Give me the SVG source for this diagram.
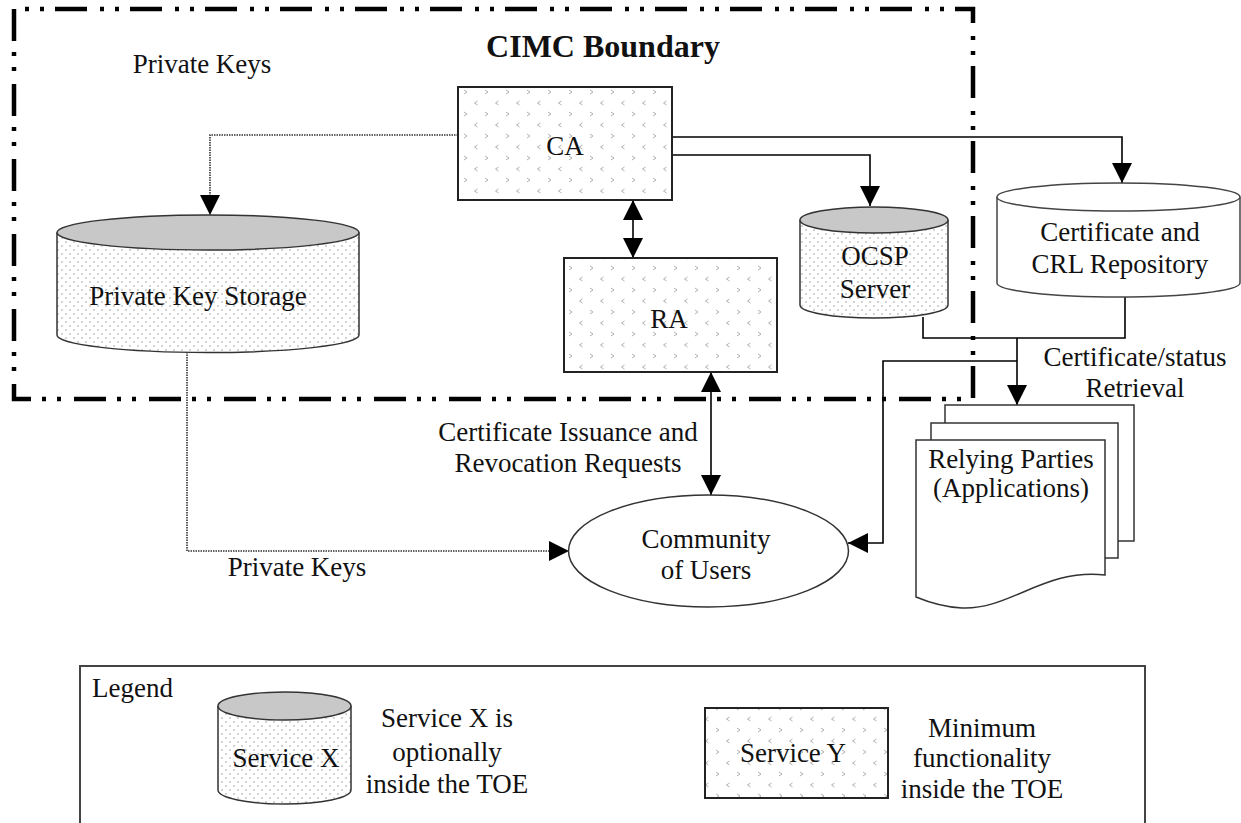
<svg xmlns="http://www.w3.org/2000/svg" width="1241" height="823" viewBox="0 0 1241 823">
  <style>
    text { font-family: "Liberation Serif", "Times New Roman", serif; font-size: 27px; fill: #111; }
    .mid { text-anchor: middle; }
    .title { font-weight: bold; font-size: 32px; }
    .box { fill: url(#chevrons); stroke: #222; stroke-width: 2; }
    .body { fill: url(#dots); stroke: #333; stroke-width: 1.5; }
    .lid { fill: #c8c8c8; stroke: #333; stroke-width: 1.5; }
    .plain { fill: #fff; stroke: #444; stroke-width: 1.5; }
    .page { fill: #fff; stroke: #333; stroke-width: 1.5; }
    .wire { fill: none; stroke: #000; stroke-width: 1.6; }
    .dotted { fill: none; stroke: #333; stroke-width: 1.6; stroke-dasharray: 1.5 1; }
    .boundary { fill: none; stroke: #000; stroke-width: 4.5; stroke-dasharray: 32 11 4 11 4 13; }
  </style>
  <defs>
    <pattern id="chevrons" width="21" height="22" patternUnits="userSpaceOnUse">
      <path d="M2,2 L5,4 L2,6" fill="none" stroke="#b0b0b0" stroke-width="1"/>
      <path d="M15.5,13 L12.5,15 L15.5,17" fill="none" stroke="#b0b0b0" stroke-width="1"/>
    </pattern>
    <pattern id="dots" width="8" height="8" patternUnits="userSpaceOnUse">
      <rect width="8" height="8" fill="#fff"/>
      <circle cx="2" cy="2" r="0.8" fill="#9c9c9c"/>
      <circle cx="6" cy="6" r="0.8" fill="#9c9c9c"/>
    </pattern>
    <marker id="arrow" markerUnits="userSpaceOnUse" markerWidth="20" markerHeight="20" refX="20" refY="10" orient="auto-start-reverse">
      <path d="M0,0 L20,10 L0,20 Z" fill="#000"/>
    </marker>
  </defs>

  <rect width="1241" height="823" fill="#fff"/>

  <!-- CIMC boundary (dash-dot-dot outline) -->
  <g id="cimc-boundary">
    <path class="boundary" d="M14,9 V399 H973 V9 Z"/>
    <text class="title mid" x="603" y="57">CIMC Boundary</text>
    <text class="mid" x="202" y="73">Private Keys</text>
  </g>

  <!-- connectors -->
  <g id="connectors">
    <path class="wire" d="M672,137 H1122 V183" marker-end="url(#arrow)"/>
    <path class="wire" d="M672,155 H870 V206" marker-end="url(#arrow)"/>
    <path class="dotted" d="M458,135 H210 V215" marker-end="url(#arrow)"/>
    <path class="wire" d="M633,200 V258" marker-start="url(#arrow)" marker-end="url(#arrow)"/>
    <path class="wire" d="M711,372 V495" marker-start="url(#arrow)" marker-end="url(#arrow)"/>
    <path class="dotted" d="M187,352 V551 H569" marker-end="url(#arrow)"/>
    <path class="wire" d="M923,317 V338 H1125 V297"/>
    <path class="wire" d="M1017,338 V405" marker-end="url(#arrow)"/>
    <path class="wire" d="M1017,361 H883 V543 H848" marker-end="url(#arrow)"/>
    <text class="mid" x="568" y="441">Certificate Issuance and</text>
    <text class="mid" x="568" y="472">Revocation Requests</text>
    <text class="mid" x="297" y="576">Private Keys</text>
    <text class="mid" x="1135" y="366">Certificate/status</text>
    <text class="mid" x="1135" y="397">Retrieval</text>
  </g>

  <g id="ca">
    <rect class="box" x="458" y="87" width="214" height="113"/>
    <text class="mid" x="565" y="155">CA</text>
  </g>

  <g id="ra">
    <rect class="box" x="564" y="258" width="213" height="114"/>
    <text class="mid" x="669" y="328">RA</text>
  </g>

  <g id="private-key-storage">
    <path class="body" d="M57,232.5 V335 A151,17.5 0 0 0 359,335 V232.5"/>
    <ellipse class="lid" cx="208" cy="232.5" rx="151" ry="17.5"/>
    <text class="mid" x="198" y="305">Private Key Storage</text>
  </g>

  <g id="ocsp-server">
    <path class="body" d="M800,220 V305 A74,13 0 0 0 948,305 V220"/>
    <ellipse class="lid" cx="874" cy="220" rx="74" ry="13"/>
    <text class="mid" x="875" y="265">OCSP</text>
    <text class="mid" x="875" y="298">Server</text>
  </g>

  <g id="repository">
    <path class="plain" d="M997,197 V283 A121.5,14 0 0 0 1240,283 V197"/>
    <ellipse class="plain" cx="1118.5" cy="197" rx="121.5" ry="14"/>
    <text class="mid" x="1120" y="241">Certificate and</text>
    <text class="mid" x="1120" y="273">CRL Repository</text>
  </g>

  <g id="community">
    <ellipse cx="708.5" cy="551" rx="140" ry="56" fill="#fff" stroke="#333" stroke-width="1.5"/>
    <text class="mid" x="706" y="548">Community</text>
    <text class="mid" x="706" y="579">of Users</text>
  </g>

  <g id="relying-parties">
    <rect class="page" x="945" y="405" width="189" height="136"/>
    <rect class="page" x="931" y="423" width="187" height="135"/>
    <path class="page" d="M916,440 H1105 V575 C1045,568 1010,610 962,608 C942,607 928,602 916,597 Z"/>
    <text class="mid" x="1011" y="468">Relying Parties</text>
    <text class="mid" x="1011" y="497">(Applications)</text>
  </g>

  <g id="legend">
    <path d="M80,823 V666 H1145 V823" fill="none" stroke="#444" stroke-width="2"/>
    <text x="92" y="697">Legend</text>
    <path class="body" d="M218,706 V790 A66.5,14 0 0 0 351,790 V706"/>
    <ellipse class="lid" cx="284.5" cy="706" rx="66.5" ry="14"/>
    <text class="mid" x="286" y="767">Service X</text>
    <text class="mid" x="447" y="727">Service X is</text>
    <text class="mid" x="447" y="761">optionally</text>
    <text class="mid" x="447" y="793">inside the TOE</text>
    <rect class="box" x="705" y="708" width="183" height="90"/>
    <text class="mid" x="793" y="762">Service Y</text>
    <text class="mid" x="982" y="737">Minimum</text>
    <text class="mid" x="982" y="767">functionality</text>
    <text class="mid" x="982" y="798">inside the TOE</text>
  </g>
</svg>
